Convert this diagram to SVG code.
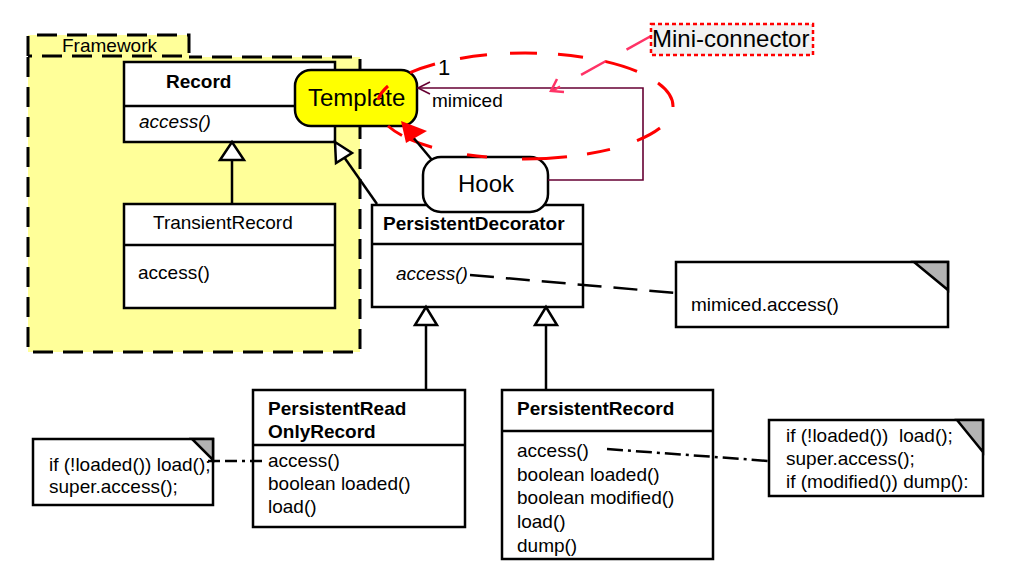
<svg xmlns="http://www.w3.org/2000/svg" width="1028" height="564" viewBox="0 0 1028 564">
<style>
text{font-family:"Liberation Sans",Arial,sans-serif;font-size:19px;fill:#000}
.b{font-weight:bold}
.i{font-style:italic}
.big{font-size:24px}
.box{fill:#fff;stroke:#000;stroke-width:2.5}
.ln{stroke:#000;stroke-width:2.5;fill:none}
.tri{fill:#fff;stroke:#000;stroke-width:2.5;stroke-linejoin:miter}
.corner{fill:#b3b3b3;stroke:#000;stroke-width:2.5}
</style>
<rect x="0" y="0" width="1028" height="564" fill="#fff"/>
<g id="framework">
<rect x="28" y="35" width="161" height="22" fill="#ffff99"/>
<rect x="28" y="57" width="332" height="295" fill="#ffff99"/>
<path d="M28,57 V352 H360 V57 H189 M28,56 V35 H189 V56 H28" fill="none" stroke="#000" stroke-width="3" stroke-dasharray="20 10"/>
<text x="62" y="52">Framework</text>
</g>
<g id="record">
<rect class="box" x="124" y="62" width="211" height="80"/>
<line class="ln" x1="124" y1="106" x2="335" y2="106"/>
<text class="b" x="166" y="88">Record</text>
<text class="i" x="139" y="128">access()</text>
</g>
<g id="transient">
<rect class="box" x="124" y="204" width="211" height="104"/>
<line class="ln" x1="124" y1="245" x2="335" y2="245"/>
<text x="153" y="229">TransientRecord</text>
<text x="138" y="279">access()</text>
</g>
<g id="decorator">
<rect class="box" x="372" y="205" width="211" height="102"/>
<line class="ln" x1="372" y1="244" x2="583" y2="244"/>
<text class="b" x="383" y="230">PersistentDecorator</text>
<text class="i" x="396" y="280">access()</text>
</g>
<g id="readonly">
<rect class="box" x="253" y="390" width="212" height="137"/>
<line class="ln" x1="253" y1="445" x2="465" y2="445"/>
<text class="b" x="268" y="415">PersistentRead</text>
<text class="b" x="268" y="438">OnlyRecord</text>
<text x="268" y="467">access()</text>
<text x="268" y="490">boolean loaded()</text>
<text x="268" y="513">load()</text>
</g>
<g id="persistent">
<rect class="box" x="502" y="390" width="211" height="169"/>
<line class="ln" x1="502" y1="431" x2="713" y2="431"/>
<text class="b" x="517" y="415">PersistentRecord</text>
<text x="517" y="457">access()</text>
<text x="517" y="481">boolean loaded()</text>
<text x="517" y="504">boolean modified()</text>
<text x="517" y="528">load()</text>
<text x="517" y="552">dump()</text>
</g>
<g id="note-decorator">
<rect class="box" x="676" y="262" width="272" height="65"/>
<path class="corner" d="M914,262 H948 V290 Z"/>
<text x="691" y="311">mimiced.access()</text>
</g>
<g id="note-readonly">
<rect class="box" x="33" y="439" width="180" height="66"/>
<path class="corner" d="M192,439 H213 V460 Z"/>
<text x="49" y="471">if (!loaded()) load();</text>
<text x="49" y="493">super.access();</text>
</g>
<g id="note-persistent">
<rect class="box" x="769" y="420" width="214" height="76"/>
<path class="corner" d="M957,420 H983 V452 Z"/>
<text x="786" y="442" xml:space="preserve">if (!loaded())  load();</text>
<text x="786" y="465">super.access();</text>
<text x="786" y="488">if (modified()) dump():</text>
</g>
<g id="template">
<rect x="295" y="70" width="122" height="56" rx="16" fill="#ffff00" stroke="#000" stroke-width="2.5"/>
<text class="big" x="308" y="106">Template</text>
</g>
<g id="hook">
<rect x="423" y="157" width="125" height="55" rx="18" fill="#fff" stroke="#000" stroke-width="2.5"/>
<text class="big" x="458" y="192">Hook</text>
</g>
<g id="connectors">
<line class="ln" x1="232" y1="160" x2="232" y2="204"/>
<path class="tri" d="M232,142 L244,160 L220,160 Z"/>
<line class="ln" x1="377" y1="204" x2="344" y2="157"/>
<path class="tri" d="M335,142 L352,153 L336,163 Z"/>
<line class="ln" x1="426" y1="325" x2="426" y2="390"/>
<path class="tri" d="M426,307 L437,325 L415,325 Z"/>
<line class="ln" x1="546" y1="325" x2="546" y2="390"/>
<path class="tri" d="M546,307 L557,325 L535,325 Z"/>
<line x1="470" y1="275" x2="676" y2="293" stroke="#000" stroke-width="2.5" stroke-dasharray="24 12"/>
<line x1="208" y1="461" x2="262" y2="461" stroke="#000" stroke-width="2.5" stroke-dasharray="12 5 12 5 3 5"/>
<line x1="607" y1="449" x2="769" y2="461" stroke="#000" stroke-width="2.5" stroke-dasharray="16 5 3 5"/>
<path d="M548,180 H643 V88 H418" fill="none" stroke="#660033" stroke-width="1.6"/>
<path d="M430,82 L418,88 L430,94" fill="none" stroke="#660033" stroke-width="1.6"/>
<text x="438" y="75" style="font-size:22px">1</text>
<text x="432" y="107">mimiced</text>
<path fill="none" stroke="#ff0000" stroke-width="3" d="M410,72.7 A148,53 0 0 1 435,64 M460,58.4 A148,53 0 0 1 487,54.8 M510,53.3 A148,53 0 0 1 537,53.2 M558,54.3 A148,53 0 0 1 583,57.2 M605,61.4 A148,53 0 0 1 637,71.4 M658,83 A148,53 0 0 1 673,107 M660,128 A148,53 0 0 1 637,140.6 M610,149.4 A148,53 0 0 1 587,154 M567,156.8 A148,53 0 0 1 522,159 M487,157 A148,53 0 0 1 467,154.8 M432,147.2 A148,53 0 0 1 410,139.3 M402,135.5 A148,53 0 0 1 388,126 M378,99.7 A148,53 0 0 1 388,86"/>
<line class="ln" x1="432" y1="160" x2="412" y2="136"/>
<path d="M401,121 L427,131 L406,143 Z" fill="#ff0000"/>
<line x1="651" y1="36" x2="552" y2="91" stroke="#ff3366" stroke-width="2.5" stroke-dasharray="28 24"/>
<path d="M557,79 L551,91 L564,92" fill="none" stroke="#ff3366" stroke-width="2.5"/>
</g>
<g id="mini-connector">
<rect x="651" y="24" width="162" height="31" fill="#f2f2f2" stroke="#ff0000" stroke-width="2.5" stroke-dasharray="4 3"/>
<text class="big" x="652" y="47">Mini-connector</text>
</g>
</svg>
